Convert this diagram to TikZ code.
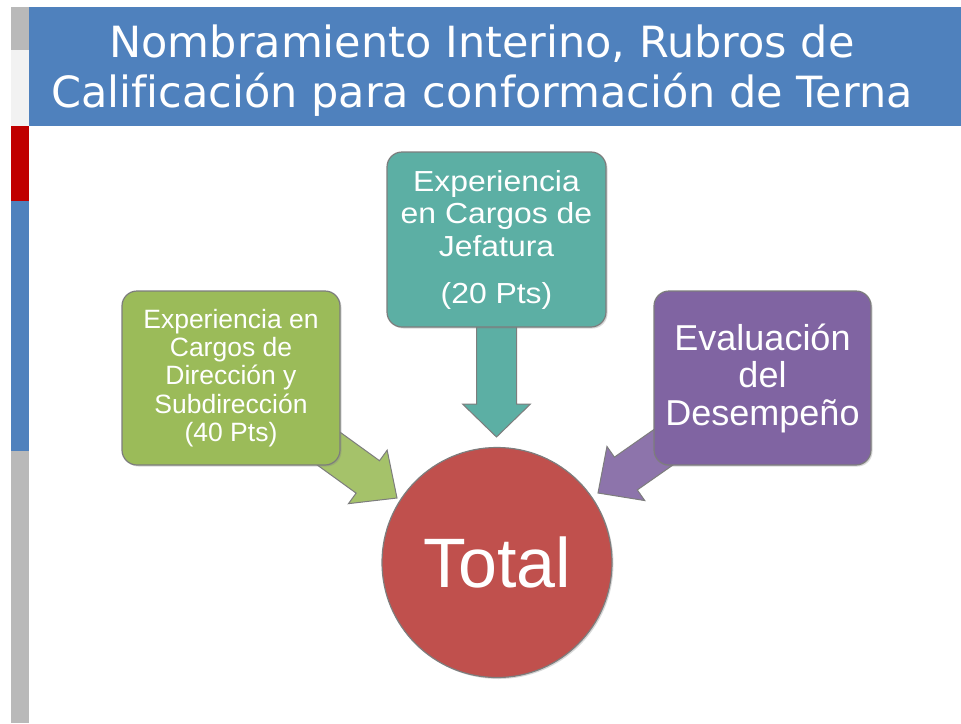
\documentclass[tikz,border=0pt]{standalone}
\usepackage{fontspec}
\setmainfont{Liberation Sans}
\newfontfamily\titlefont[Ligatures=NoCommon]{DejaVu Sans}
\newfontfamily\widefont[FakeStretch=1.1]{Liberation Sans}
\usetikzlibrary{calc,shadows}
\definecolor{titleblue}{RGB}{79,129,189}
\definecolor{boxgreen}{RGB}{155,187,89}
\definecolor{boxteal}{RGB}{92,175,164}
\definecolor{boxpurple}{RGB}{128,100,162}
\definecolor{circred}{RGB}{192,80,77}
\definecolor{bargray}{RGB}{185,185,185}
\definecolor{barlight}{RGB}{242,242,242}
\definecolor{barred}{RGB}{192,0,0}
\definecolor{edgegray}{RGB}{125,125,125}
\pgfdeclarelayer{bg}
\pgfdeclarelayer{arrowlayer}
\pgfsetlayers{bg,arrowlayer,main}
\tikzset{
  rubro/.style={rounded corners=15pt, draw=edgegray, line width=1.2pt, text=white,
    align=center, inner sep=0pt, minimum width=218pt, minimum height=174pt,
    drop shadow={opacity=0.3, shadow xshift=1.5pt, shadow yshift=-1.5pt}},
  blockarrow/.style={draw=edgegray, line width=1pt, line join=miter},
  titlebox/.style={fill=titleblue, draw=none, text=white, align=center, inner sep=0pt},
}
\newcommand\blockarrow[7]{%
  \coordinate (#1-h) at ($(#4)!#7!(#3)$);
  \draw[#2] ($(#3)!#5!90:(#4)$) -- ($(#1-h)!#5!-90:(#3)$) -- ($(#1-h)!#6!-90:(#3)$)
    -- (#4) -- ($(#1-h)!#6!90:(#3)$) -- ($(#1-h)!#5!90:(#3)$) -- ($(#3)!#5!-90:(#4)$) -- cycle;
}
\begin{document}
\begin{tikzpicture}[x=1pt,y=-1pt]
\useasboundingbox (0,0) rectangle (961,723);
\begin{pgfonlayer}{bg}
\fill[white] (0,0) rectangle (961,723);
\end{pgfonlayer}
% left bar
\fill[bargray] (11,7) rectangle (29,50);
\fill[barlight] (11,50) rectangle (29,126);
\fill[barred] (11,126) rectangle (29,201);
\fill[titleblue] (11,201) rectangle (29,451);
\fill[bargray] (11,451) rectangle (29,723);
% title
\fill[titleblue] (29,7) rectangle (961,126);
\node[titlebox, font=\titlefont\fontsize{43}{50}\selectfont] (title) at (482,70.7)
  {Nombramiento Interino, Rubros de\\Calificación para conformación de Terna};
% boxes
\node[rubro, fill=boxgreen, font=\fontsize{26.5}{28.2}\selectfont] (green) at (231,378)
  {Experiencia en\\Cargos de\\Dirección y\\Subdirección\\(40 Pts)};
\node[rubro, fill=boxteal, minimum width=219pt, minimum height=175pt, font=\widefont\fontsize{29}{32.5}\selectfont] (teal) at (496.5,239.5)
  {Experiencia\\en Cargos de\\Jefatura\\[14.5pt](20 Pts)};
\node[rubro, fill=boxpurple, minimum width=217pt, font=\fontsize{36}{37.5}\selectfont] (purple) at (762.5,378)
  {Evaluación\\del\\Desempeño};
\node[circle, fill=circred, draw=edgegray, line width=1.2pt, minimum size=230pt, inner sep=0pt,
  text=white, font=\fontsize{70}{80}\selectfont,
  drop shadow={opacity=0.3, shadow xshift=1.5pt, shadow yshift=-1.5pt}] (total) at (497,562.5) {Total};
% arrow tips
\coordinate (tipG) at (397,498);
\coordinate (tipT) at (496.5,437);
\coordinate (tipP) at (598,493);
\begin{pgfonlayer}{arrowlayer}
\blockarrow{ag}{blockarrow, fill=boxgreen!90!white}{green.center}{tipG}{20pt}{33pt}{36pt}
\blockarrow{at}{blockarrow, fill=boxteal}{teal.center}{tipT}{20pt}{34pt}{33pt}
\blockarrow{ap}{blockarrow, fill=boxpurple!90!white}{purple.center}{tipP}{20pt}{33pt}{34pt}
\end{pgfonlayer}
\end{tikzpicture}
\end{document}
